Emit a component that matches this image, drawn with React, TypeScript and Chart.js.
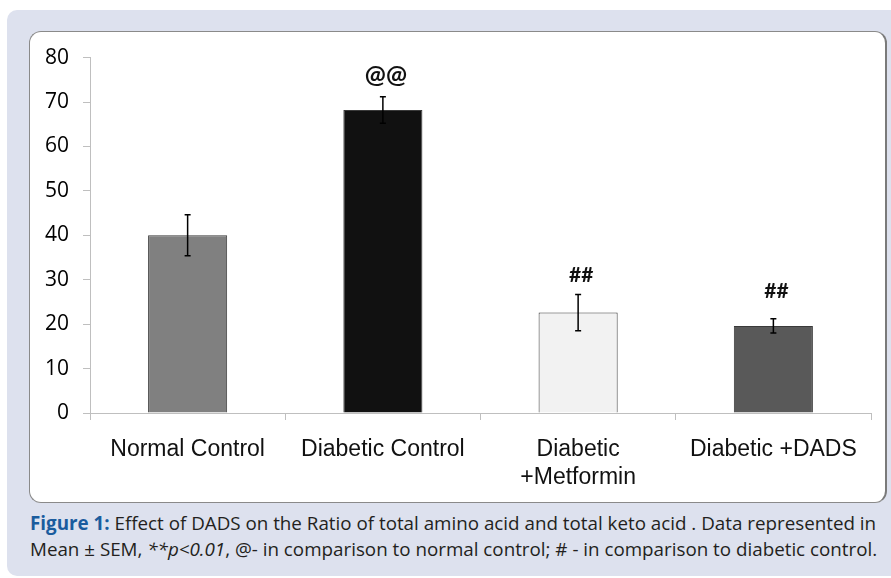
import React, { useEffect, useRef } from "react";
import { Chart, registerables } from "chart.js";

Chart.register(...registerables);

const categories: string[][] = [
  ["Normal Control"],
  ["Diabetic Control"],
  ["Diabetic", "+Metformin"],
  ["Diabetic +DADS"],
];
const means = [40, 68.2, 22.6, 19.6];
const sems = [4.6, 3.0, 4.1, 1.6];
const barColors = ["#808080", "#111111", "#f2f2f2", "#595959"];
const annotationTexts = ["", "@@", "##", "##"];
const annotationLevels = [0, 76, 31, 27.4];
const yTicks = [0, 10, 20, 30, 40, 50, 60, 70, 80];

const errorBarPlugin = {
  id: "errorBars",
  afterDatasetsDraw(chart: any) {
    const ctx = chart.ctx;
    const meta = chart.getDatasetMeta(0);
    const y = chart.scales.y;
    ctx.save();
    ctx.strokeStyle = "#000000";
    ctx.lineWidth = 1.5;
    meta.data.forEach((bar: any, i: number) => {
      const x = bar.x;
      const top = y.getPixelForValue(means[i] + sems[i]);
      const bot = y.getPixelForValue(means[i] - sems[i]);
      ctx.beginPath();
      ctx.moveTo(x, top);
      ctx.lineTo(x, bot);
      ctx.moveTo(x - 3, top);
      ctx.lineTo(x + 3, top);
      ctx.moveTo(x - 3, bot);
      ctx.lineTo(x + 3, bot);
      ctx.stroke();
    });
    ctx.fillStyle = "#111111";
    ctx.textAlign = "center";
    ctx.textBaseline = "middle";
    meta.data.forEach((bar: any, i: number) => {
      const t = annotationTexts[i];
      if (!t) return;
      ctx.font = t.startsWith("@") ? "bold 25px Lato" : "bold 21px Lato";
      ctx.fillText(t, bar.x + 3, y.getPixelForValue(annotationLevels[i]));
    });
    ctx.restore();
  },
};

export default function App() {
  const canvasRef = useRef<HTMLCanvasElement | null>(null);

  useEffect(() => {
    if (!canvasRef.current) return;
    const chart = new Chart(canvasRef.current, {
      type: "bar",
      data: {
        labels: categories,
        datasets: [
          {
            data: means,
            backgroundColor: barColors,
            borderColor: "#3a3a3a",
            borderWidth: 1,
            categoryPercentage: 1,
            barPercentage: 0.405,
          },
        ],
      },
      options: {
        animation: false,
        responsive: false,
        layout: { padding: { top: 22, right: 16, left: 0, bottom: 0 } },
        plugins: {
          legend: { display: false },
          tooltip: { enabled: false },
        },
        scales: {
          x: {
            afterFit: (s: any) => {
              s.height = 89;
            },
            grid: {
              display: true,
              drawOnChartArea: false,
              drawTicks: true,
              tickLength: 7,
              color: "#bfbfbf",
              offset: true,
            },
            border: { display: true, color: "#bfbfbf", width: 1 },
            ticks: {
              color: "#111111",
              padding: 16,
              maxRotation: 0,
              autoSkip: false,
              font: { family: "'Liberation Sans', Arial, sans-serif", size: 23, lineHeight: 1.2 },
            },
          },
          y: {
            min: 0,
            max: 80,
            afterFit: (s: any) => {
              s.width = 61;
            },
            afterBuildTicks: (s: any) => {
              s.ticks = yTicks.map((v) => ({ value: v }));
            },
            grid: {
              display: true,
              drawOnChartArea: false,
              drawTicks: true,
              tickLength: 7,
              color: "#bfbfbf",
            },
            border: { display: true, color: "#bfbfbf", width: 1 },
            ticks: {
              color: "#000000",
              padding: 14,
              font: { family: "'Open Sans', sans-serif", size: 21 },
            },
          },
        },
      },
      plugins: [errorBarPlugin],
    });
    return () => chart.destroy();
  }, []);

  return (
    <div style={{ position: "absolute", left: 0, top: 0, width: 891, height: 578, background: "#ffffff", overflow: "hidden" }}>
      <div
        style={{
          position: "absolute",
          left: 7,
          top: 10,
          width: 884,
          height: 566,
          background: "#dde1ee",
          borderTopLeftRadius: 10,
          borderBottomLeftRadius: 10,
        }}
      />
      <div
        style={{
          position: "absolute",
          left: 29,
          top: 31,
          width: 858,
          height: 472,
          boxSizing: "border-box",
          background: "#ffffff",
          border: "1px solid #8a8a8a",
          borderRight: "2px solid #7a7a7a",
          borderRadius: 12,
        }}
      />
      <canvas
        ref={canvasRef}
        width={858}
        height={471}
        style={{ position: "absolute", left: 29, top: 31, width: 858, height: 471 }}
      />
      <div
        style={{
          position: "absolute",
          left: 30,
          top: 510,
          whiteSpace: "nowrap",
          fontFamily: "'Open Sans', sans-serif",
          fontSize: 18.8,
          lineHeight: "26px",
          color: "#231f20",
        }}
      >
        <span style={{ color: "#1a5c9e", fontWeight: 700 }}>Figure 1:</span> Effect of DADS on the Ratio of total amino acid and total keto acid . Data represented in
        <br />
        Mean ± SEM, <i>**p&lt;0.01</i>, @- in comparison to normal control; # - in comparison to diabetic control.
      </div>
    </div>
  );
}
